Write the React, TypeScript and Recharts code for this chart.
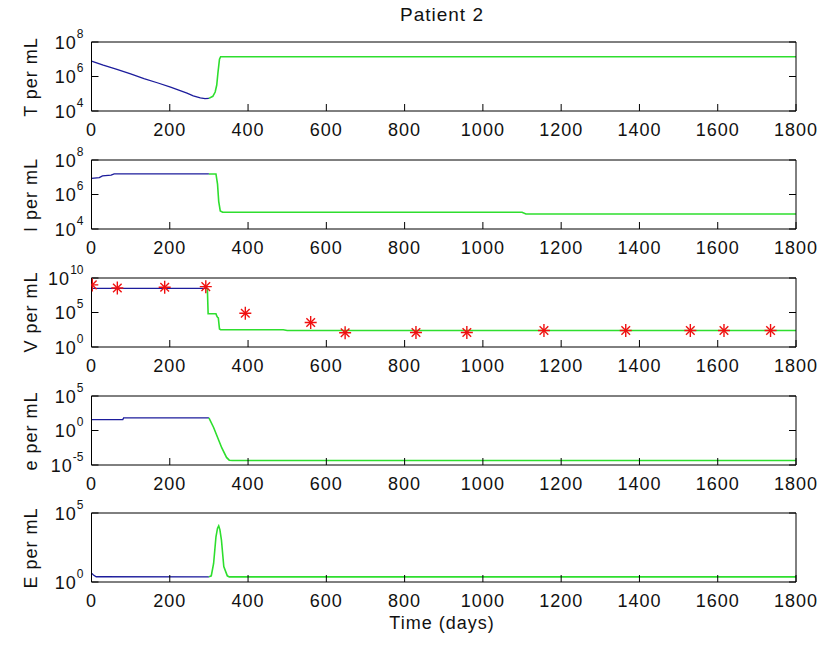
import { ComposedChart, Line, Scatter, XAxis, YAxis } from "recharts";

// x axis (days)
const dayTicks = [0, 200, 400, 600, 800, 1000, 1200, 1400, 1600, 1800];

// T per mL
const tBefore: [number, number][] = [
  [0, 7.9e6], [30, 4.5e6], [65, 2.6e6], [100, 1.4e6], [134, 7.6e5], [170, 4.2e5],
  [202, 2.4e5], [244, 1.1e5], [260, 7.6e4], [278, 5.8e4], [290, 5.2e4], [300, 5.4e4],
];
const tAfter: [number, number][] = [
  [300, 5.4e4], [310, 7.1e4], [316, 1.26e5], [320, 3.2e5], [323, 1.6e6], [327, 1.0e7],
  [330, 1.4e7], [1800, 1.4e7],
];

// I per mL
const iBefore: [number, number][] = [
  [0, 8.5e6], [20, 9.5e6], [28, 1.2e7], [50, 1.32e7], [58, 1.55e7], [300, 1.55e7],
];
const iAfter: [number, number][] = [
  [300, 1.55e7], [318, 1.55e7], [322, 4.0e6], [325, 4.0e5], [329, 1.12e5], [335, 9.3e4],
  [1100, 9.3e4], [1110, 7.4e4], [1800, 7.4e4],
];

// V per mL
const vBefore: [number, number][] = [[0, 3.2e8], [296, 3.2e8]];
const vAfter: [number, number][] = [
  [296, 3.2e8], [298, 6.5e4], [318, 6.5e4], [320, 3.2e4], [322, 2.0e4], [324, 1.6e4],
  [327, 400], [330, 316], [490, 316], [500, 250], [1800, 250],
];
const vMeasured: [number, number][] = [
  [2, 1e9], [66, 3.6e8], [187, 4.5e8], [292, 5.6e8], [393, 7.9e4], [560, 3.6e3],
  [648, 117], [829, 126], [959, 126], [1156, 250], [1365, 250], [1530, 250], [1616, 250],
  [1735, 250],
];

// e per mL
const eBefore: [number, number][] = [[0, 38], [80, 38], [82, 66], [300, 66]];
const eAfter: [number, number][] = [
  [300, 66], [312, 2.75], [333, 2.95e-3], [345, 1.26e-4], [352, 5.0e-5], [360, 4.4e-5],
  [1800, 4.4e-5],
];

// E per mL
const bigEBefore: [number, number][] = [[0, 4.4], [5, 3.2], [12, 2.4], [300, 2.35]];
const bigEAfter: [number, number][] = [
  [300, 2.35], [306, 2.8], [312, 22], [318, 1.9e3], [322, 7.9e3], [325, 1.17e4],
  [328, 6.3e3], [332, 1.1e3], [338, 13], [347, 2.8], [352, 2.35], [1800, 2.35],
];

const FONT = "'Liberation Sans', Arial, sans-serif";
const BLUE = "#1c1c9c";
const GREEN = "#2ede2e";
const PLOT_H = 69;
const HEAD = 24; // space above each plot box inside its svg

const pts = (a: [number, number][]) => a.map(([t, v]) => ({ t, v }));

const EmptyTick = () => <g />;

const DayTick = ({ x, y, payload }: any) => (
  <text x={x} y={y} textAnchor="middle" fill="#111" fontSize={18} fontFamily={FONT} letterSpacing={1}>
    {payload.value}
  </text>
);

const PowerTick = ({ x, y, payload }: any) => {
  const exp = Math.round(Math.log10(payload.value));
  return (
    <text x={x} y={y} textAnchor="end" fill="#111" fontFamily={FONT} fontSize={18} letterSpacing={1}>
      <tspan dy={6.5}>10</tspan>
      <tspan dy={-11} fontSize={12} letterSpacing={0}>{exp}</tspan>
    </text>
  );
};

const Asterisk = ({ cx, cy }: any) => (
  <g stroke="#f01010" strokeWidth={1.4}>
    <line x1={cx - 6} y1={cy} x2={cx + 6} y2={cy} />
    <line x1={cx} y1={cy - 6.5} x2={cx} y2={cy + 6.5} />
    <line x1={cx - 4.3} y1={cy - 4.3} x2={cx + 4.3} y2={cy + 4.3} />
    <line x1={cx - 4.3} y1={cy + 4.3} x2={cx + 4.3} y2={cy - 4.3} />
  </g>
);

interface PanelProps {
  top: number;
  label: string;
  domain: [number, number];
  ticks: number[];
  before: [number, number][];
  after: [number, number][];
  measured?: [number, number][];
}

function Panel({ top, label, domain, ticks, before, after, measured }: PanelProps) {
  return (
    <>
      <div
        style={{
          position: "absolute",
          left: 31,
          top: top + PLOT_H / 2,
          transform: "translate(-50%, -50%) rotate(-90deg)",
          whiteSpace: "nowrap",
          fontFamily: FONT,
          fontSize: 18,
          letterSpacing: 1,
          lineHeight: "20px",
          color: "#111",
        }}
      >
        {label}
      </div>
      <div style={{ position: "absolute", left: 0, top: top - HEAD }}>
        <ComposedChart width={820} height={HEAD + PLOT_H + 36} margin={{ top: HEAD - 10, right: 23, bottom: 0, left: 31.5 }}>
          <XAxis
            dataKey="t"
            type="number"
            domain={[0, 1800]}
            ticks={dayTicks}
            interval={0}
            allowDataOverflow
            height={36}
            tickSize={-7}
            tickMargin={32}
            tick={<DayTick />}
            tickLine={{ stroke: "#000" }}
            axisLine={{ stroke: "#000" }}
          />
          <XAxis
            xAxisId="top"
            orientation="top"
            type="number"
            domain={[0, 1800]}
            ticks={dayTicks}
            interval={0}
            allowDataOverflow
            height={10}
            tickSize={-7}
            tick={<EmptyTick />}
            tickLine={{ stroke: "#000" }}
            axisLine={{ stroke: "#000" }}
          />
          <YAxis
            type="number"
            scale="log"
            domain={domain}
            ticks={ticks}
            interval={0}
            allowDataOverflow
            width={60}
            tickSize={-7}
            tickMargin={15}
            tick={<PowerTick />}
            tickLine={{ stroke: "#000" }}
            axisLine={{ stroke: "#000" }}
          />
          <YAxis
            yAxisId="right"
            orientation="right"
            type="number"
            scale="log"
            domain={domain}
            ticks={ticks}
            interval={0}
            allowDataOverflow
            width={1}
            tickSize={-7}
            tick={<EmptyTick />}
            tickLine={{ stroke: "#000" }}
            axisLine={{ stroke: "#000" }}
          />
          <Line data={pts(before)} dataKey="v" stroke={BLUE} strokeWidth={1.3} dot={false} isAnimationActive={false} />
          <Line data={pts(after)} dataKey="v" stroke={GREEN} strokeWidth={1.6} dot={false} isAnimationActive={false} />
          {measured && (
            <Scatter data={pts(measured)} dataKey="v" shape={<Asterisk />} isAnimationActive={false} />
          )}
        </ComposedChart>
      </div>
    </>
  );
}

export default function App() {
  return (
    <div style={{ position: "absolute", left: 0, top: 0, width: 820, height: 646, background: "#fff", overflow: "hidden" }}>
      <div
        style={{
          position: "absolute",
          left: 442,
          top: 4,
          transform: "translateX(-50%)",
          fontFamily: FONT,
          fontSize: 19,
          letterSpacing: 1,
          whiteSpace: "nowrap",
          color: "#111",
        }}
      >
        Patient 2
      </div>
      <Panel top={42} label="T per mL" domain={[1e4, 1e8]} ticks={[1e4, 1e6, 1e8]} before={tBefore} after={tAfter} />
      <Panel top={160} label="I per mL" domain={[1e4, 1e8]} ticks={[1e4, 1e6, 1e8]} before={iBefore} after={iAfter} />
      <Panel
        top={277.5}
        label="V per mL"
        domain={[1, 1e10]}
        ticks={[1, 1e5, 1e10]}
        before={vBefore}
        after={vAfter}
        measured={vMeasured}
      />
      <Panel top={396} label="e per mL" domain={[1e-5, 1e5]} ticks={[1e-5, 1, 1e5]} before={eBefore} after={eAfter} />
      <Panel top={513} label="E per mL" domain={[1, 1e5]} ticks={[1, 1e5]} before={bigEBefore} after={bigEAfter} />
      <div
        style={{
          position: "absolute",
          left: 442,
          top: 613,
          transform: "translateX(-50%)",
          fontFamily: FONT,
          fontSize: 18,
          letterSpacing: 1,
          whiteSpace: "nowrap",
          color: "#111",
        }}
      >
        Time (days)
      </div>
    </div>
  );
}
